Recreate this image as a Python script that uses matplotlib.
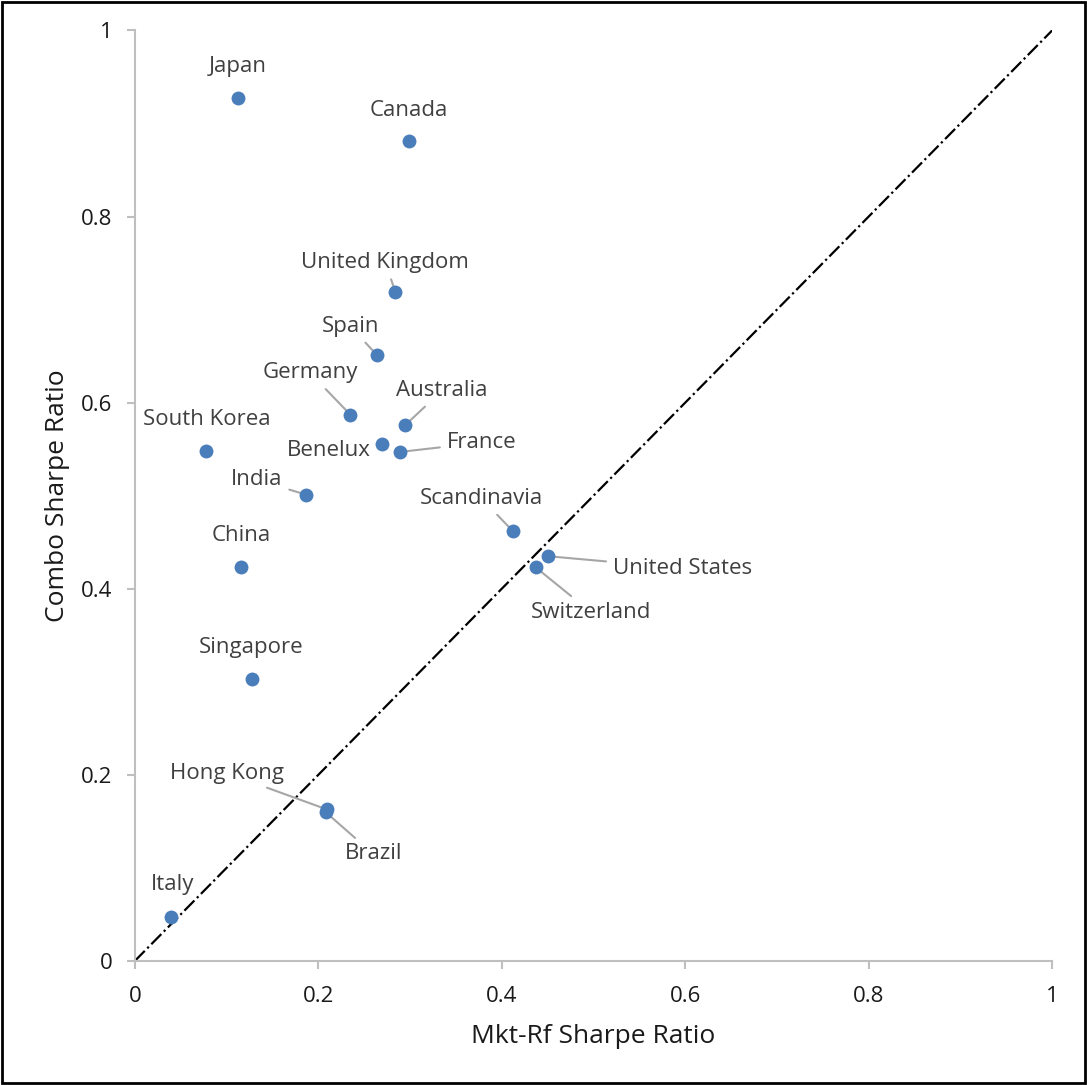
import matplotlib
matplotlib.use("Agg")
import matplotlib.pyplot as plt
from matplotlib.patches import Rectangle

countries = ["Japan", "Canada", "United Kingdom", "Spain", "Germany", "Australia",
             "France", "South Korea", "Benelux", "India", "Scandinavia",
             "United States", "Switzerland", "China", "Singapore", "Hong Kong",
             "Brazil", "Italy"]
mkt_rf = [0.113, 0.299, 0.284, 0.264, 0.235, 0.295, 0.289, 0.078, 0.270, 0.187,
          0.412, 0.450, 0.437, 0.116, 0.128, 0.209, 0.208, 0.040]
combo = [0.927, 0.881, 0.719, 0.651, 0.587, 0.576, 0.547, 0.548, 0.555, 0.501,
         0.462, 0.435, 0.423, 0.423, 0.303, 0.163, 0.160, 0.047]
# label text positions (data coords) and whether a leader line is drawn
label_x = [0.112, 0.299, 0.273, 0.235, 0.191, 0.335, 0.378, 0.078, 0.211, 0.133,
           0.378, 0.597, 0.497, 0.116, 0.127, 0.100, 0.260, 0.041]
label_y = [0.961, 0.914, 0.751, 0.682, 0.632, 0.613, 0.557, 0.582, 0.549, 0.517,
           0.497, 0.422, 0.375, 0.457, 0.337, 0.202, 0.115, 0.082]
leader = [False, False, True, True, True, True, True, False, False, True,
          True, True, True, False, False, True, True, False]
ticks = [0, 0.2, 0.4, 0.6, 0.8, 1]
tick_labels = ["0", "0.2", "0.4", "0.6", "0.8", "1"]

plt.rcParams['font.family'] = ['Open Sans', 'DejaVu Sans']

fig = plt.figure(figsize=(10.87, 10.85), dpi=100)
ax = fig.add_axes([0.124, 0.1143, 0.844, 0.8577])

ax.plot([0, 1], [0, 1], color='black', linestyle='-.', linewidth=1.6, zorder=1)
ax.scatter(mkt_rf, combo, s=100, color='#4A7EBB', zorder=3, linewidths=0)

for name, px, py, lx, ly, ld in zip(countries, mkt_rf, combo, label_x, label_y, leader):
    if ld:
        ax.annotate(name, xy=(px, py), xytext=(lx, ly), ha='center', va='center',
                    fontsize=16, color='#404040',
                    arrowprops=dict(arrowstyle='-', color='#A6A6A6', lw=1.5,
                                    shrinkA=3, shrinkB=0), zorder=2)
    else:
        ax.text(lx, ly, name, ha='center', va='center', fontsize=16, color='#404040')

ax.set_xlim(0, 1)
ax.set_ylim(0, 1)
ax.set_xticks(ticks)
ax.set_xticklabels(tick_labels)
ax.set_yticks(ticks)
ax.set_yticklabels(tick_labels)
for s in ['top', 'right']:
    ax.spines[s].set_visible(False)
for s in ['left', 'bottom']:
    ax.spines[s].set_color('#BFBFBF')
    ax.spines[s].set_linewidth(1.5)
ax.tick_params(direction='out', length=6, width=1.5, color='#BFBFBF',
               labelsize=16, labelcolor='#1a1a1a')
ax.tick_params(axis='y', pad=10)
ax.tick_params(axis='x', pad=12)
ax.set_xlabel("Mkt-Rf Sharpe Ratio", fontsize=19, color='#1a1a1a', labelpad=12)
ax.set_ylabel("Combo Sharpe Ratio", fontsize=19, color='#1a1a1a', labelpad=8)

fig.patches.append(Rectangle((0.002, 0.002), 0.996, 0.996, transform=fig.transFigure,
                             fill=False, edgecolor='black', linewidth=2))

fig.savefig("out.png", dpi=100)
